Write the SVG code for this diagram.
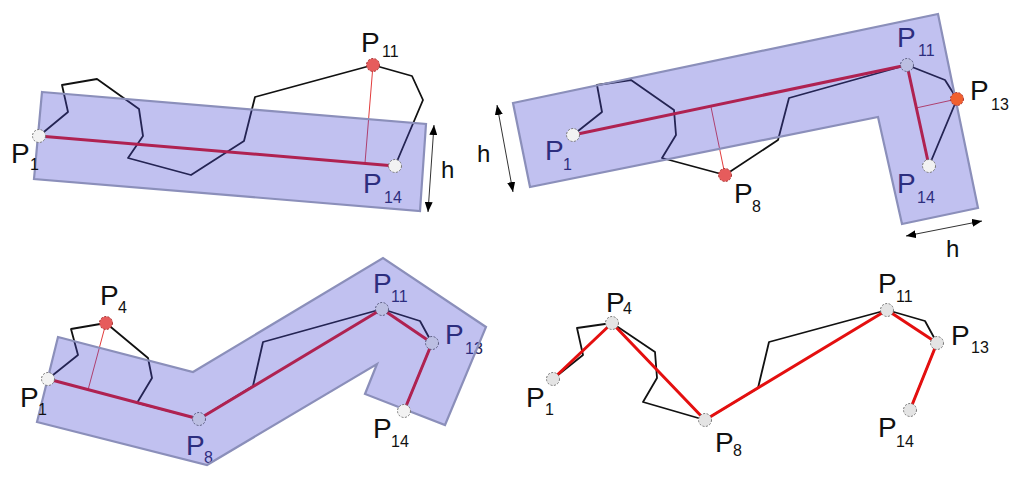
<svg xmlns="http://www.w3.org/2000/svg" width="1023" height="489" viewBox="0 0 1023 489">
<style>
.lbl{font-family:"Liberation Sans",Arial,sans-serif;font-size:28px;fill:#111}
.lbl .sub{font-size:16px}
.in{fill:#1e2052}
.hl{font-family:"Liberation Sans",Arial,sans-serif;font-size:24px;fill:#111}
.poly{fill:none;stroke:#111;stroke-width:1.8;stroke-linejoin:round}
.red{fill:none;stroke:#e40f0f;stroke-width:3;stroke-linejoin:round}
.drop{fill:none;stroke:#e23c3c;stroke-width:1}
.band{fill:rgb(74,74,210);fill-opacity:0.34;stroke:#8b8fba;stroke-width:2.2;stroke-linejoin:miter}
.end{fill:#f2f2f2;stroke:#777;stroke-width:1;stroke-dasharray:2 1.5}
.mid{fill:#bcbfe2;stroke:#5a5c80;stroke-width:1;stroke-dasharray:2 1.5}
.gray{fill:#e4e4e4;stroke:#777;stroke-width:1;stroke-dasharray:2 1.5}
.hot{fill:#e65c5c;stroke:#a83030;stroke-width:1;stroke-dasharray:2 1.5}
.dim{fill:none;stroke:#333;stroke-width:1;marker-start:url(#ah);marker-end:url(#ah)}
</style>
<defs>
<marker id="ah" viewBox="0 0 10 8" refX="10" refY="4" markerWidth="10" markerHeight="8" markerUnits="userSpaceOnUse" orient="auto-start-reverse">
<path d="M0,0 L10,4 L0,8 z" fill="#000"/>
</marker>
</defs>
<rect width="1023" height="489" fill="#fff"/>

<g id="connectors">
<!-- panel 1 -->
<polyline class="poly" points="39,136 68,112 62,85 97,79 139,109 143,136 128,158 191,175 244,141 255,97 373,65 412,76 423,100 395,166"/>
<line class="drop" x1="373" y1="65" x2="365" y2="163"/>
<line class="red" x1="39" y1="136" x2="395" y2="166"/>
<!-- panel 2 -->
<polyline class="poly" points="573,135 602,112 597,85 631,80 674,110 676,135 662,158 725,175 778,140 789,98 907,65 945,80 957,99 929,166"/>
<line class="drop" x1="725" y1="175" x2="711" y2="107"/>
<line class="drop" x1="957" y1="99" x2="916" y2="108"/>
<polyline class="red" points="573,135 907,65 929,166"/>
<!-- panel 3 -->
<polyline class="poly" points="48,379 78,355 71,329 106,323 148,358 152,378 137,403 199,419 253,386 263,342 382,309 420,321 432,343 404,411"/>
<line class="drop" x1="106" y1="323" x2="88" y2="390"/>
<polyline class="red" points="48,379 199,419 382,309 432,343 404,411"/>
<!-- panel 4 -->
<polyline class="poly" points="553,379 583,355 577,328 612,323 655,352 657,378 643,402 705,420 758,388 769,342 887,310 925,321 937,343 910,410"/>
<polyline class="red" points="553,379 612,323 705,420 887,310 937,343 910,410"/>
<!-- dimension arrows -->
<line class="dim" x1="434" y1="125" x2="428" y2="212"/>
<line class="dim" x1="497" y1="105" x2="513" y2="192"/>
<line class="dim" x1="906" y1="236" x2="982" y2="221"/>
</g>

<g id="labels-under">
<text class="lbl in" x="363" y="193">P<tspan class="sub" x="384" y="203">14</tspan></text>
<text class="lbl in" x="545" y="160">P<tspan class="sub" x="563" y="170">1</tspan></text>
<text class="lbl in" x="897" y="47">P<tspan class="sub" x="918" y="56">11</tspan></text>
<text class="lbl in" x="897" y="193">P<tspan class="sub" x="917" y="203">14</tspan></text>
<text class="lbl in" x="186" y="455">P<tspan class="sub" x="204" y="463">8</tspan></text>
<text class="lbl in" x="373" y="293">P<tspan class="sub" x="391" y="302">11</tspan></text>
<text class="lbl in" x="445" y="344">P<tspan class="sub" x="465" y="354">13</tspan></text>
</g>

<g id="bands">
<polygon id="band-1" class="band" points="42,92 426,124 420,211 34,179"/>
<polygon id="band-2" class="band" points="513,103 938,14 978,208 902,224 878,117 530,187"/>
<polygon id="band-3" class="band" points="58,337 193,372 383,258 486,327 445,425 365,394 377,364 207,465 37,422"/>
</g>

<!-- panel 1 nodes -->
<g id="n1-P1"><circle class="end" cx="39" cy="136" r="6.5"/><text class="lbl" x="11" y="163">P<tspan class="sub" x="30" y="170">1</tspan></text></g>
<g id="n1-P11"><circle class="hot" cx="373" cy="65" r="6.5"/><text class="lbl" x="361" y="52">P<tspan class="sub" x="382" y="57">11</tspan></text></g>
<g id="n1-P14"><circle class="end" cx="395" cy="166" r="6.5"/></g>
<g id="n1-h"><text class="hl" x="441" y="178">h</text></g>

<!-- panel 2 nodes -->
<g id="n2-P1"><circle class="end" cx="573" cy="135" r="6.5"/></g>
<g id="n2-P8"><circle class="hot" cx="725" cy="175" r="6.5"/><text class="lbl" x="734" y="203">P<tspan class="sub" x="752" y="212">8</tspan></text></g>
<g id="n2-P11"><circle class="mid" cx="907" cy="65" r="6.5"/></g>
<g id="n2-P13"><circle class="hot" cx="957" cy="99" r="6.5" style="fill:#f06030"/><text class="lbl" x="970" y="100">P<tspan class="sub" x="991" y="110">13</tspan></text></g>
<g id="n2-P14"><circle class="end" cx="929" cy="166" r="6.5"/></g>
<g id="n2-h"><text class="hl" x="477" y="162">h</text><text class="hl" x="946" y="257">h</text></g>

<!-- panel 3 nodes -->
<g id="n3-P1"><circle class="end" cx="48" cy="379" r="6.5"/><text class="lbl" x="20" y="407">P<tspan class="sub" x="38" y="415">1</tspan></text></g>
<g id="n3-P4"><circle class="hot" cx="106" cy="323" r="6.5"/><text class="lbl" x="100" y="305">P<tspan class="sub" x="118" y="313">4</tspan></text></g>
<g id="n3-P8"><circle class="mid" cx="199" cy="419" r="6.5"/></g>
<g id="n3-P11"><circle class="mid" cx="382" cy="309" r="6.5"/></g>
<g id="n3-P13"><circle class="mid" cx="432" cy="343" r="6.5"/></g>
<g id="n3-P14"><circle class="end" cx="404" cy="411" r="6.5"/><text class="lbl" x="373" y="438">P<tspan class="sub" x="391" y="447">14</tspan></text></g>

<!-- panel 4 nodes -->
<g id="n4-P1"><circle class="gray" cx="553" cy="379" r="6.5"/><text class="lbl" x="526" y="407">P<tspan class="sub" x="545" y="415">1</tspan></text></g>
<g id="n4-P4"><circle class="gray" cx="612" cy="323" r="6.5"/><text class="lbl" x="606" y="312">P<tspan class="sub" x="623" y="314">4</tspan></text></g>
<g id="n4-P8"><circle class="gray" cx="705" cy="420" r="6.5"/><text class="lbl" x="715" y="452">P<tspan class="sub" x="733" y="456">8</tspan></text></g>
<g id="n4-P11"><circle class="gray" cx="887" cy="310" r="6.5"/><text class="lbl" x="878" y="293">P<tspan class="sub" x="896" y="302">11</tspan></text></g>
<g id="n4-P13"><circle class="gray" cx="937" cy="343" r="6.5"/><text class="lbl" x="951" y="345">P<tspan class="sub" x="971" y="353">13</tspan></text></g>
<g id="n4-P14"><circle class="gray" cx="910" cy="410" r="6.5"/><text class="lbl" x="878" y="437">P<tspan class="sub" x="896" y="447">14</tspan></text></g>
</svg>
